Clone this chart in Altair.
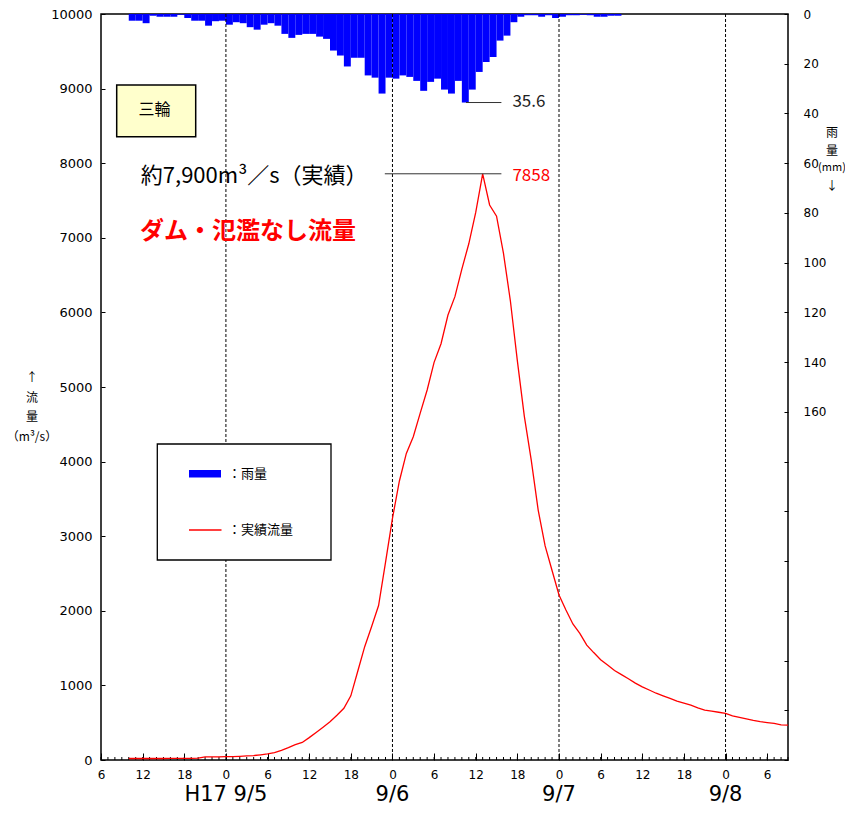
import altair as alt
import pandas as pd

# Hours are counted from H17 (2005) 9/4 06:00
flow_hours = list(range(4, 100))
flow_values = [
    20, 20, 20, 20, 20, 20, 21, 21, 22, 22,          # 4-13
    25, 42, 43, 43, 44, 44, 48, 54, 60, 70,          # 14-23
    82, 98, 128, 165, 205, 235, 300, 370, 440, 513,  # 24-33
    600, 693, 860, 1190, 1519, 1790, 2070, 2650, 3240, 3740,  # 34-43
    4110, 4334, 4650, 4960, 5330, 5580, 5965, 6211, 6580, 6920,  # 44-53
    7340, 7858, 7440, 7290, 6790, 6150, 5350, 4610, 4020, 3350,  # 54-63
    2870, 2540, 2212, 2010, 1823, 1698, 1540, 1440, 1345, 1273,  # 64-73
    1200, 1145, 1090, 1030, 980, 938, 895, 860, 825, 790,        # 74-83
    762, 735, 700, 670, 655, 640, 626, 592, 570, 550,            # 84-93
    530, 514, 502, 490, 470, 468,                                # 94-99
]
rain_hours = list(range(4, 75))
rain_values = [
    2.7, 2.7, 3.7, 0.7, 1.1, 1.1, 1.1, 0.3, 1.6, 2.7,   # 4-13
    2.7, 4.7, 2.9, 2.7, 4.3, 3.3, 3.7, 5.3, 6.3, 4.3,   # 14-23
    3.7, 4.7, 8.0, 9.6, 8.4, 8.0, 8.0, 9.1, 10.0, 14.7,  # 24-33
    16.7, 21.1, 17.6, 17.6, 24.7, 25.6, 32.0, 25.6, 26.0, 24.7,  # 34-43
    25.3, 26.9, 30.9, 27.3, 26.0, 30.4, 32.0, 26.9, 35.6, 30.4,  # 44-53
    23.3, 19.3, 17.3, 10.7, 8.7, 3.3, 1.1, 0.5, 0.5, 1.1,        # 54-63
    0.5, 1.6, 1.1, 0.5, 0.5, 0.3, 0.5, 1.1, 1.1, 0.7, 0.7,       # 64-74
]
day_hours = [18, 42, 66, 90]
day_labels = ["H17 9/5", "9/6", "9/7", "9/8"]
x_tick_hours = list(range(0, 100, 6))
minor_tick_hours = list(range(0, 100))
flow_ticks = list(range(0, 10001, 1000))
rain_ticks = list(range(0, 301, 20))
flow_leader = [40.9, 57.7]
rain_leader = [52.6, 57.7]
note_text = "約7,900m³／s（実績）"
note_hour = 38.4
title_text = "ダム・氾濫なし流量"
station = "三輪"
legend_labels = ["：雨量", "：実績流量"]
flow_title = ["↑", "流", "量", "（m³/s）"]
rain_title = ["雨", "量", "(mm)", "↓"]

W, H = 687, 746
JP = "Noto Sans CJK JP"

flow_df = pd.DataFrame({"hour": flow_hours, "flow": flow_values})
rain_df = pd.DataFrame({"hour": rain_hours, "hour_end": [h + 1 for h in rain_hours], "rain": rain_values})
day_df = pd.DataFrame({"hour": day_hours, "label": day_labels})
minor_df = pd.DataFrame({"hour": minor_tick_hours})

peak_i = max(range(len(flow_values)), key=lambda i: flow_values[i])
peak_flow = flow_values[peak_i]
rpeak_i = max(range(len(rain_values)), key=lambda i: rain_values[i])
peak_rain = rain_values[rpeak_i]

flow_ann = pd.DataFrame({"x1": [flow_leader[0]], "x2": [flow_leader[1]], "y": [peak_flow],
                         "label": [str(peak_flow)], "note": [note_text], "nx": [note_hour]})
rain_ann = pd.DataFrame({"x1": [rain_leader[0]], "x2": [rain_leader[1]], "y": [peak_rain],
                         "label": [f"{peak_rain:.1f}"]})

xscale = alt.Scale(domain=[0, 99], nice=False, zero=False)
xaxis = alt.Axis(values=x_tick_hours, labelExpr="'' + ((datum.value + 6) % 24)", title=None,
                 grid=False, domain=False, tickSize=7, offset=-7, tickColor="black", tickWidth=1,
                 labelFont="DejaVu Sans", labelFontSize=12, labelColor="black", labelPadding=9,
                 labelFlush=False, labelOverlap=False)
fscale = alt.Scale(domain=[0, 10000], nice=False, zero=True)
faxis = alt.Axis(values=flow_ticks, orient="left", grid=False, domain=False, tickSize=4, offset=-4,
                 tickColor="black", format="d", labelFont="DejaVu Sans", labelFontSize=13,
                 labelColor="black", labelPadding=9, labelOverlap=False, title=None)
rscale = alt.Scale(domain=[0, 300], nice=False, zero=True, reverse=True)
raxis = alt.Axis(values=rain_ticks, orient="right", grid=False, domain=False, tickSize=4, offset=-4,
                 tickColor="black", labelExpr="datum.value <= 160 ? datum.label : ''",
                 labelFont="DejaVu Sans", labelFontSize=12, labelColor="black", labelPadding=15,
                 labelAlign="left", labelOverlap=False, title=None)

def X(field):
    return alt.X(field, type="quantitative", scale=xscale, axis=xaxis)

def YF(field, axis=None):
    return alt.Y(field, type="quantitative", scale=fscale, axis=axis)

def YR(field, axis=None):
    return alt.Y(field, type="quantitative", scale=rscale, axis=axis)

# rain layers
bars = alt.Chart(rain_df).mark_rect(color="#0000FF").encode(
    x=X("hour"), x2="hour_end:Q", y=YR("rain", raxis), y2=alt.datum(0))
rain_lead = alt.Chart(rain_ann).mark_rule(color="#333333", strokeWidth=1).encode(
    x=X("x1"), x2="x2:Q", y=YR("y"))
rain_txt = alt.Chart(rain_ann).mark_text(align="left", baseline="middle", dx=11, dy=-1,
                                         font=JP, fontSize=17, color="#222222").encode(
    x=X("x2"), y=YR("y"), text="label:N")

# day separators and minor ticks
vlines = alt.Chart(day_df).mark_rule(color="black", strokeDash=[3, 2], strokeWidth=1).encode(x=X("hour"))
minor = alt.Chart(minor_df).mark_rule(color="black", strokeWidth=1).encode(
    x=X("hour"), y=alt.value(H), y2=alt.value(H - 3))
days = alt.Chart(day_df).mark_text(font="DejaVu Sans", fontSize=21, color="black",
                                   align="center", baseline="middle").encode(
    x=X("hour"), y=alt.value(781), text="label:N")

# flow layers
line = alt.Chart(flow_df).mark_line(color="#FF0000", strokeWidth=1.3).encode(
    x=X("hour"), y=YF("flow", faxis))
flow_lead = alt.Chart(flow_ann).mark_rule(color="#333333", strokeWidth=1).encode(
    x=X("x1"), x2="x2:Q", y=YF("y"))
flow_txt = alt.Chart(flow_ann).mark_text(align="left", baseline="middle", dx=11, dy=2,
                                         font=JP, fontSize=17, color="#FF0000").encode(
    x=X("x2"), y=YF("y"), text="label:N")
note_txt = alt.Chart(flow_ann).mark_text(align="right", baseline="middle", dy=2,
                                         font=JP, fontSize=22, color="black").encode(
    x=X("nx"), y=YF("y"), text="note:N")

# axis titles (stacked vertically) and decorations
ftitle_df = pd.DataFrame({"t": flow_title, "k": list(range(len(flow_title)))})
rtitle_df = pd.DataFrame({"t": rain_title, "k": list(range(len(rain_title))),
                          "s": [12, 12, 11, 12]})
ftitle = alt.Chart(ftitle_df).transform_calculate(py="364 + datum.k * 19.5").mark_text(
    align="center", baseline="middle", font=JP, fontSize=12, color="black").encode(
    x=alt.value(-69), y=alt.Y("py:Q", scale=None, axis=None), text="t:N")
rtitle = alt.Chart(rtitle_df).transform_calculate(py="119 + datum.k * 17.5").mark_text(
    align="center", baseline="middle", font=JP, color="black").encode(
    x=alt.value(731), y=alt.Y("py:Q", scale=None, axis=None), text="t:N",
    size=alt.Size("s:Q", scale=None, legend=None))

deco_df = pd.DataFrame({"a": [0]})
title = alt.Chart(deco_df).mark_text(align="left", baseline="middle", font=JP, fontSize=24,
                                     fontWeight="bold", color="#FF0000", text=title_text).encode(
    x=alt.value(39), y=alt.value(218))
sbox = alt.Chart(deco_df).mark_rect(fill="#FFFFCC", stroke="black", strokeWidth=1.5).encode(
    x=alt.value(15.7), x2=alt.value(94.7), y=alt.value(71), y2=alt.value(122.7))
stext = alt.Chart(deco_df).mark_text(align="center", baseline="middle", font=JP, fontSize=16,
                                     color="black", text=station).encode(
    x=alt.value(53.5), y=alt.value(96))
lbox = alt.Chart(deco_df).mark_rect(fill="white", stroke="black", strokeWidth=1.3).encode(
    x=alt.value(56.3), x2=alt.value(230), y=alt.value(430), y2=alt.value(546))
lrain = alt.Chart(deco_df).mark_rect(fill="#0000FF").encode(
    x=alt.value(88), x2=alt.value(120), y=alt.value(456), y2=alt.value(463.5))
lflow = alt.Chart(deco_df).mark_rule(color="#FF0000", strokeWidth=1.3).encode(
    x=alt.value(88), x2=alt.value(120.5), y=alt.value(516))
lt1 = alt.Chart(deco_df).mark_text(align="left", baseline="middle", font=JP, fontSize=13,
                                   color="black", text=legend_labels[0]).encode(
    x=alt.value(127), y=alt.value(460))
lt2 = alt.Chart(deco_df).mark_text(align="left", baseline="middle", font=JP, fontSize=13,
                                   color="black", text=legend_labels[1]).encode(
    x=alt.value(127), y=alt.value(516))

chart = alt.layer(
    bars, rain_lead, rain_txt, vlines, minor, line, flow_lead, flow_txt, note_txt, days,
    ftitle, rtitle, title, sbox, stext, lbox, lrain, lflow, lt1, lt2
).resolve_scale(y="independent").properties(
    width=W, height=H,
    autosize=alt.AutoSizeParams(type="none"),
    padding={"left": 93, "top": 6, "right": 57, "bottom": 48},
).configure_view(stroke="black", strokeWidth=1.5)

chart.save("out.html", embed_options={"renderer": "svg", "actions": False})
